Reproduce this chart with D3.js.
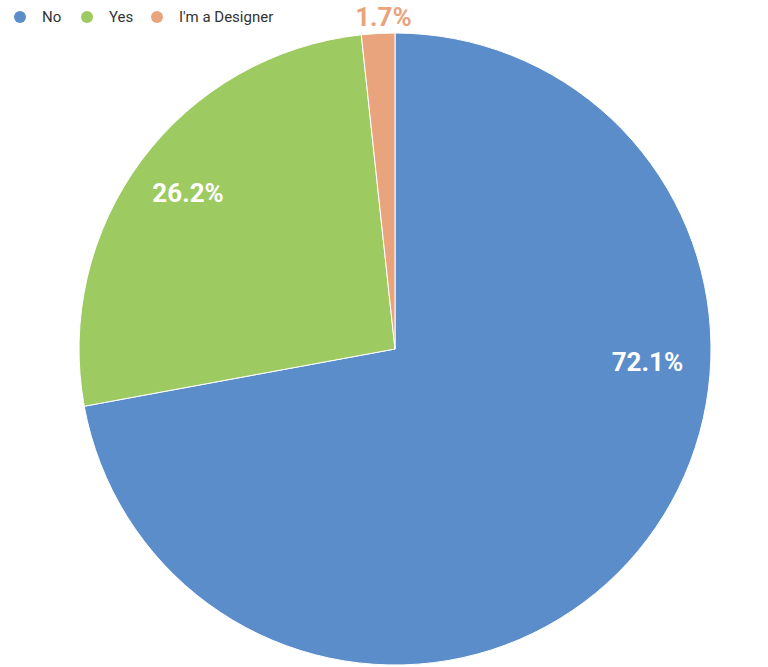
<!DOCTYPE html>
<html><head><meta charset="utf-8">
<script src="https://cdn.jsdelivr.net/npm/d3@7"></script>
<style>body{margin:0;background:#fff}text{font-family:Roboto,sans-serif}</style>
</head><body><svg id="c" width="768" height="667"></svg>
<script>
var categories = ["No", "Yes", "I'm a Designer"]
var values = [72.1, 26.2, 1.7]
var colors = ["#5a8dc9", "#9dcb62", "#e9a47e"]
// where each label sits: angle (deg from top) and radius factor
var labelAngle = [93, 307, 358]
var labelRadius = [0.8, 0.82, 1.05]
var labelInside = [true, true, false]

var svg = d3.select("#c")
var cx = 395, cy = 349, r = 316

var pie = d3.pie().sort(null).value(d => d)
var arc = d3.arc().innerRadius(0).outerRadius(r)
var g = svg.append("g").attr("transform", `translate(${cx},${cy})`)

g.selectAll("path").data(pie(values)).join("path")
  .attr("d", arc)
  .attr("fill", (d, i) => colors[i])
  .attr("stroke", "#fff").attr("stroke-width", 1)

g.selectAll("text.lbl").data(values).join("text")
  .attr("class", "lbl")
  .attr("x", (d, i) => Math.sin(labelAngle[i] * Math.PI / 180) * r * labelRadius[i])
  .attr("y", (d, i) => -Math.cos(labelAngle[i] * Math.PI / 180) * r * labelRadius[i])
  .attr("text-anchor", "middle").attr("dominant-baseline", "central")
  .attr("font-size", 26).attr("font-weight", "bold")
  .attr("fill", (d, i) => labelInside[i] ? "#fff" : colors[i])
  .text(d => d + "%")

var legendX = [20, 87, 157]
var lg = svg.append("g").selectAll("g").data(categories).join("g")
  .attr("transform", (d, i) => `translate(${legendX[i]},17)`)
lg.append("circle").attr("r", 6).attr("fill", (d, i) => colors[i])
lg.append("text").attr("x", 22).attr("dy", "0.35em")
  .attr("font-size", 15).attr("fill", "#333").text(d => d)
</script></body></html>
